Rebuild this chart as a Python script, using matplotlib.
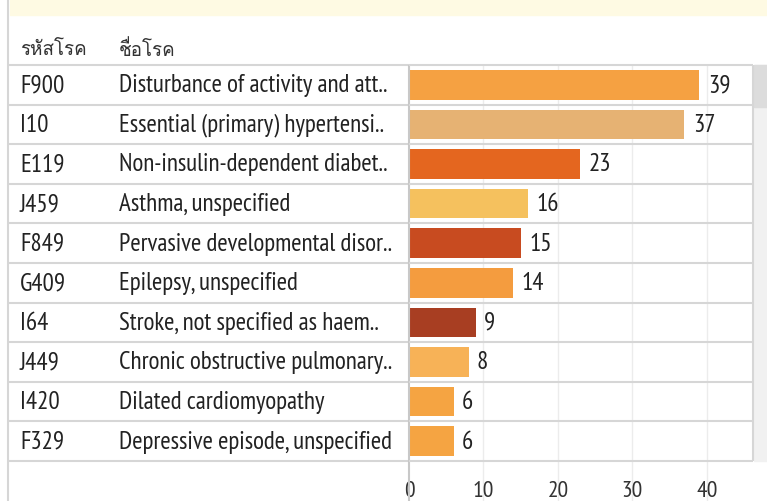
import matplotlib
matplotlib.use("Agg")
import matplotlib.pyplot as plt
from matplotlib.patches import Rectangle

codes = ["F900", "I10", "E119", "J459", "F849", "G409", "I64", "J449", "I420", "F329"]
names = ["Disturbance of activity and att..", "Essential (primary) hypertensi..",
         "Non-insulin-dependent diabet..", "Asthma, unspecified",
         "Pervasive developmental disor..", "Epilepsy, unspecified",
         "Stroke, not specified as haem..", "Chronic obstructive pulmonary..",
         "Dilated cardiomyopathy", "Depressive episode, unspecified"]
counts = [39, 37, 23, 16, 15, 14, 9, 8, 6, 6]
colors = ["#F5A142", "#E6B273", "#E4661F", "#F5C15E", "#C84B20",
          "#F49C3F", "#A83E22", "#F7B257", "#F5A442", "#F5A442"]
headers = ["รหัสโรค", "ชื่อโรค"]
xticks = [0, 10, 20, 30, 40]

W, H = 767, 502
FONT = ["PT Sans Narrow", "Loma", "Noto Sans Thai", "DejaVu Sans"]
plt.rcParams["font.family"] = FONT
fs = 18
line_c = "#d6d6d6"

fig = plt.figure(figsize=(W / 100, H / 100), dpi=100)

def box(x0, y0, x1, y1):
    # pixel box (top-left origin) -> figure fraction rect
    return [x0 / W, 1 - y1 / H, (x1 - x0) / W, (y1 - y0) / H]

top, bot = 66, 462
ax_t = fig.add_axes(box(8, top, 409, bot))
ax = fig.add_axes(box(409, top, 753, bot), sharey=ax_t)

# yellow banner, left border, scrollbar
fig.add_artist(Rectangle((10 / W, 1 - 16 / H), 1, 16 / H, transform=fig.transFigure,
                         color="#FEFAE3", zorder=0))
fig.add_artist(plt.Line2D([8 / W, 8 / W], [0, 1], transform=fig.transFigure, color=line_c, lw=1.5))
fig.add_artist(Rectangle((754 / W, 1 - bot / H), 13 / W, (bot - top) / H, transform=fig.transFigure,
                         color="#F1F1F1", zorder=0))
fig.add_artist(Rectangle((754 / W, 1 - 108 / H), 13 / W, (108 - top) / H, transform=fig.transFigure,
                         color="#DCDCDC", zorder=0))

n = len(codes)
ys = list(range(n))

# table part
ax_t.set_xlim(8, 409)
ax_t.set_ylim(n - 0.5, -0.5)
ax_t.axis("off")
for i in ys:
    ax_t.text(20, i, codes[i], va="center", ha="left", fontsize=fs, color="#222222")
    ax_t.text(119, i, names[i], va="center", ha="left", fontsize=fs, color="#222222")
ax_t.text(20, -0.9, headers[0], va="center", ha="left", fontsize=13.5, color="#333333", clip_on=False)
ax_t.text(119, -0.9, headers[1], va="center", ha="left", fontsize=13.5, color="#333333", clip_on=False)
ax_t.hlines([i - 0.5 for i in range(n + 1)], 8, 409, color=line_c, lw=1.5, clip_on=False)

# bar part
ax.barh(ys, counts, height=0.75, color=colors, zorder=3)
for i, v in enumerate(counts):
    ax.annotate(str(v), (v, i), xytext=(6, 0), textcoords="offset points",
                va="center", ha="left", fontsize=fs, color="#222222")
ax.set_xlim(0, 46.2)
for s in ax.spines.values():
    s.set_visible(False)
ax.tick_params(left=False, labelleft=False, bottom=False, pad=10, labelsize=17, labelcolor="#333333")
ax.set_xticks(xticks)
extra = (H - bot) / 39.6
ax.vlines(xticks[1:], n - 0.5 + extra, -0.5, color="#ececec", lw=1, clip_on=False, zorder=1)
ax.vlines([0], n - 0.5 + extra, -0.5, color="#c8c8c8", lw=1.5, clip_on=False, zorder=4)
ax.vlines([46.2], n - 0.5, -0.5, color=line_c, lw=1.5, clip_on=False, zorder=4)
ax.hlines([i - 0.5 for i in range(n + 1)], 0, 46.2, color=line_c, lw=1.5, clip_on=False, zorder=4)

fig.savefig("out.png", dpi=100)
